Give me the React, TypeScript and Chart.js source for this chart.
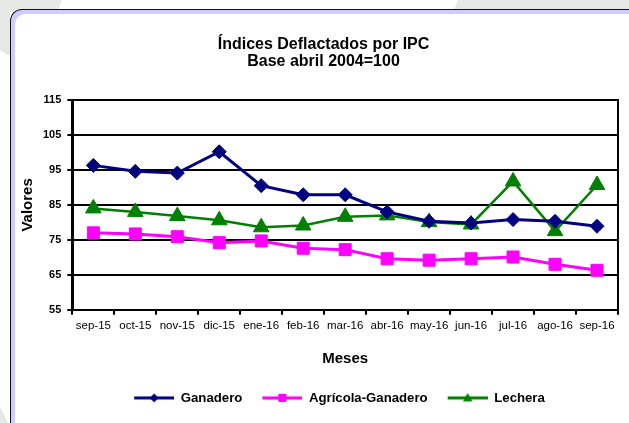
import React, { useEffect, useRef } from "react";
import { Chart, registerables } from "chart.js";

Chart.register(...registerables);

const categories = [
  "sep-15", "oct-15", "nov-15", "dic-15", "ene-16", "feb-16", "mar-16",
  "abr-16", "may-16", "jun-16", "jul-16", "ago-16", "sep-16",
];
const ganadero = [96.3, 94.6, 94.1, 100.2, 90.5, 87.9, 87.9, 83.0, 80.3, 79.8, 80.8, 80.3, 78.9];
const agricola = [77.0, 76.7, 75.9, 74.2, 74.7, 72.6, 72.2, 69.6, 69.2, 69.6, 70.1, 68.0, 66.3];
const lechera = [84.0, 83.0, 81.8, 80.6, 78.6, 79.1, 81.6, 82.0, 80.1, 79.4, 91.7, 77.5, 90.7];
const seriesNames = ["Ganadero", "Agrícola-Ganadero", "Lechera"];
const titleLines = ["Índices Deflactados por IPC", "Base abril 2004=100"];
const xTitle = "Meses";
const yTitle = "Valores";
const yMin = 55;
const yMax = 115;
const yStep = 10;

const FONT = "'Liberation Sans', Arial, Helvetica, sans-serif";

function makeSwatch(color: string, shape: string): HTMLCanvasElement {
  const c = document.createElement("canvas");
  c.width = 50;
  c.height = 16;
  const ctx = c.getContext("2d")!;
  ctx.strokeStyle = color;
  ctx.lineWidth = 3;
  ctx.beginPath();
  ctx.moveTo(10, 8);
  ctx.lineTo(50, 8);
  ctx.stroke();
  ctx.fillStyle = color;
  ctx.beginPath();
  const cx = 30, cy = 8;
  if (shape === "diamond") {
    ctx.moveTo(cx, cy - 4.5);
    ctx.lineTo(cx + 4.5, cy);
    ctx.lineTo(cx, cy + 4.5);
    ctx.lineTo(cx - 4.5, cy);
  } else if (shape === "square") {
    ctx.rect(cx - 4, cy - 4, 8, 8);
  } else {
    ctx.moveTo(cx, cy - 5);
    ctx.lineTo(cx + 4.8, cy + 3.5);
    ctx.lineTo(cx - 4.8, cy + 3.5);
  }
  ctx.closePath();
  ctx.fill();
  return c;
}

const framePlugin = {
  id: "framePlugin",
  afterLayout(chart: any) {
    if (chart.titleBlock) {
      chart.titleBlock.left += 8;
      chart.titleBlock.right += 8;
    }
    if (chart.legend) {
      chart.legend.left += 19;
      chart.legend.right += 19;
    }
  },
  beforeDatasetsDraw(chart: any) {
    const { ctx, chartArea } = chart;
    ctx.save();
    ctx.strokeStyle = "#000";
    ctx.lineWidth = 2;
    ctx.beginPath();
    ctx.moveTo(chartArea.right, chartArea.top - 1);
    ctx.lineTo(chartArea.right, chartArea.bottom + 1);
    ctx.stroke();
    ctx.restore();
  },
};

export default function App() {
  const ref = useRef<HTMLCanvasElement>(null);

  useEffect(() => {
    if (!ref.current) return;
    Chart.defaults.font.family = FONT;
    Chart.defaults.color = "#000";
    const colors = ["#000080", "#ff00ff", "#008000"];
    const swatches = [
      makeSwatch(colors[0], "diamond"),
      makeSwatch(colors[1], "square"),
      makeSwatch(colors[2], "triangle"),
    ];
    const chart = new Chart(ref.current, {
      type: "line",
      data: {
        labels: categories,
        datasets: [
          {
            label: seriesNames[0],
            data: ganadero,
            borderColor: colors[0],
            backgroundColor: colors[0],
            borderWidth: 3,
            pointStyle: "rectRot",
            pointRadius: 7,
            pointBorderWidth: 1,
            pointBorderColor: colors[0],
            pointBackgroundColor: colors[0],
            tension: 0,
          },
          {
            label: seriesNames[1],
            data: agricola,
            borderColor: colors[1],
            backgroundColor: colors[1],
            borderWidth: 3,
            pointStyle: "rect",
            pointRadius: 8.5,
            pointBorderWidth: 1,
            pointBorderColor: colors[1],
            pointBackgroundColor: colors[1],
            tension: 0,
          },
          {
            label: seriesNames[2],
            data: lechera,
            borderColor: colors[2],
            backgroundColor: colors[2],
            borderWidth: 2.5,
            pointStyle: "triangle",
            pointRadius: 9,
            pointBorderWidth: 1,
            pointBorderColor: colors[2],
            pointBackgroundColor: colors[2],
            tension: 0,
          },
        ],
      },
      options: {
        responsive: false,
        animation: false,
        devicePixelRatio: 1,
        layout: { padding: { left: 13, right: 11, top: 0, bottom: 8.5 } },
        plugins: {
          title: {
            display: true,
            text: titleLines,
            color: "#000",
            font: { size: 16, weight: "bold", lineHeight: 1.0625 },
            padding: { top: 36.5, bottom: 29.5 },
          },
          legend: {
            display: true,
            position: "bottom",
            labels: {
              usePointStyle: true,
              pointStyleWidth: 50,
              padding: 10,
              color: "#000",
              font: { size: 13.2, weight: "bold" },
              generateLabels: (c: any) => {
                const items = (Chart.defaults.plugins.legend.labels as any).generateLabels(c);
                return items.map((it: any, i: number) => ({ ...it, pointStyle: swatches[i], fontColor: "#000" }));
              },
            },
          },
          tooltip: { enabled: false },
        },
        scales: {
          x: {
            type: "category",
            offset: true,
            grid: {
              display: true,
              offset: true,
              drawOnChartArea: false,
              drawTicks: true,
              tickLength: 5,
              color: "#000",
              lineWidth: 2,
            },
            border: { display: true, color: "#000", width: 2 },
            ticks: {
              autoSkip: false,
              maxRotation: 0,
              minRotation: 0,
              padding: 4,
              color: "#000",
              font: { size: 11.5 },
            },
            title: {
              display: true,
              text: xTitle,
              color: "#000",
              font: { size: 15, weight: "bold" },
              padding: { top: 13.2, bottom: 13.5 },
            },
          },
          y: {
            min: yMin,
            max: yMax,
            grid: {
              display: true,
              drawTicks: true,
              tickLength: 5,
              color: "#000",
              lineWidth: 2,
            },
            border: { display: true, color: "#000", width: 3 },
            ticks: {
              stepSize: yStep,
              padding: 6,
              color: "#000",
              font: { size: 11, weight: "bold" },
            },
            title: {
              display: true,
              text: yTitle,
              color: "#000",
              font: { size: 15, weight: "bold" },
              padding: { top: 6, bottom: 0 },
            },
          },
        },
      },
      plugins: [framePlugin],
    });
    return () => chart.destroy();
  }, []);

  return (
    <div
      style={{
        position: "fixed",
        left: 0,
        top: 0,
        width: 629,
        height: 423,
        overflow: "hidden",
        background: "#e6e8e6",
      }}
    >
      <div
        style={{
          position: "absolute",
          left: 0,
          top: 0,
          width: 629,
          height: 423,
          background: "#ffffff",
          clipPath:
            "polygon(62px 0, 458px 0, 453px 12px, 629px 12px, 629px 423px, 8px 423px, 0 406px, 0 50px, 10px 56px, 10px 12px, 57px 12px)",
        }}
      />
      <div
        style={{
          position: "absolute",
          left: 10,
          top: 9,
          width: 640,
          height: 440,
          background: "#ccccff",
          borderTop: "1px solid #111",
          borderLeft: "1px solid #111",
          borderTopLeftRadius: 12,
          boxSizing: "border-box",
        }}
      >
        <div
          style={{
            position: "absolute",
            left: 4,
            top: 4,
            right: 0,
            bottom: 0,
            background: "#ffffff",
            borderTopLeftRadius: 10,
          }}
        />
      </div>
      <canvas
        ref={ref}
        width={629}
        height={423}
        style={{ position: "absolute", left: 0, top: 0 }}
      />
    </div>
  );
}
